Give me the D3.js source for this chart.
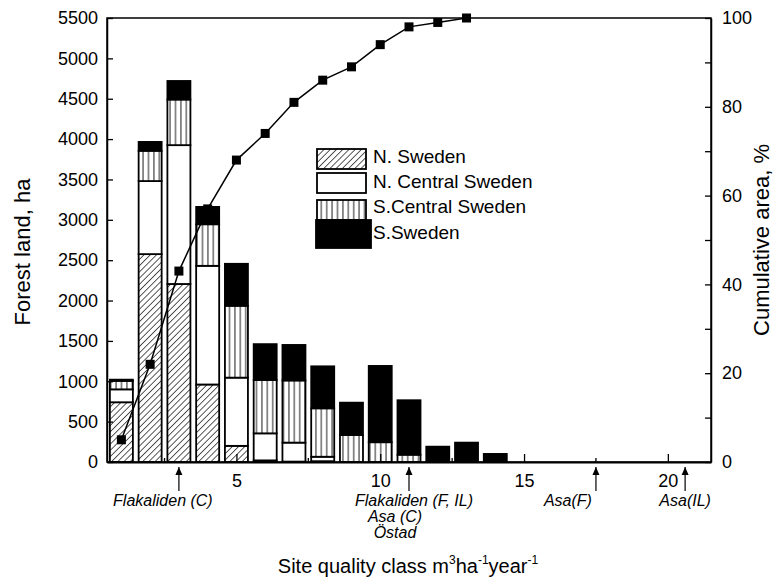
<!DOCTYPE html>
<html>
<head>
<meta charset="utf-8">
<script src="https://cdn.jsdelivr.net/npm/d3@7"></script>
<style>
  body { margin: 0; background: #fff; }
  svg { display: block; font-family: "Liberation Sans", Arial, sans-serif; }
</style>
</head>
<body>
<svg id="chart" width="781" height="581"></svg>
<script>
// ---- data ----
const categories = [1, 2, 3, 4, 5, 6, 7, 8, 9, 10, 11, 12, 13, 14];
const nSweden    = [740, 2575, 2205, 960, 200, 20, 5, 10, 0, 0, 0, 0, 0, 0];
const nCentral   = [160, 905, 1720, 1470, 845, 335, 235, 55, 0, 0, 0, 0, 0, 0];
const sCentral   = [105, 375, 565, 515, 890, 660, 770, 600, 335, 245, 90, 0, 0, 0];
const sSweden    = [15, 110, 230, 215, 520, 445, 440, 520, 400, 945, 675, 190, 240, 100];
const cumCats    = [1, 2, 3, 4, 5, 6, 7, 8, 9, 10, 11, 12, 13];
const cumulative = [5, 22, 43, 57, 68, 74, 81, 86, 89, 94, 98, 99, 100];
const seriesNames = ["N. Sweden", "N. Central Sweden", "S.Central Sweden", "S.Sweden"];
const yTicks = [0, 500, 1000, 1500, 2000, 2500, 3000, 3500, 4000, 4500, 5000, 5500];
const y2Ticks = [0, 10, 20, 30, 40, 50, 60, 70, 80, 90, 100];
const xMajor = [5, 10, 15, 20];
const xMinor = [2.5, 7.5, 12.5, 17.5];
const annotations = [
  { x: 3,    lines: ["Flakaliden (C)"], tx: -21 },
  { x: 11,   lines: ["Flakaliden (F, IL)", "Asa (C)", "Östad"], tx: 0 },
  { x: 17.5, lines: ["Asa(F)"], tx: -33 },
  { x: 20.6, lines: ["Asa(IL)"], tx: -5 }
];

const svg = d3.select("#chart");
const L = 107, R = 711, T = 18, B = 462;

const x = d3.scaleLinear().domain([0.5, 21.5]).range([L, R]);
const y = d3.scaleLinear().domain([0, 5500]).range([B, T]);
const y2 = d3.scaleLinear().domain([0, 100]).range([B, T]);

// patterns
const defs = svg.append("defs");
const hatch = defs.append("pattern").attr("id", "hatch")
  .attr("patternUnits", "userSpaceOnUse").attr("width", 4.4).attr("height", 4.4)
  .attr("patternTransform", "rotate(45)");
hatch.append("rect").attr("width", 4.4).attr("height", 4.4).attr("fill", "#fff");
hatch.append("line").attr("x1", 0).attr("y1", 0).attr("x2", 0).attr("y2", 4.4)
  .attr("stroke", "#000").attr("stroke-width", 1.3);
const vstripe = defs.append("pattern").attr("id", "vstripe")
  .attr("patternUnits", "userSpaceOnUse").attr("width", 5.4).attr("height", 10);
vstripe.append("rect").attr("width", 5.4).attr("height", 10).attr("fill", "#fff");
vstripe.append("line").attr("x1", 2.7).attr("y1", 0).attr("x2", 2.7).attr("y2", 10)
  .attr("stroke", "#333").attr("stroke-width", 1.1);

const fills = ["url(#hatch)", "#fff", "url(#vstripe)", "#000"];

// stacked data
const table = categories.map((c, i) => ({
  cat: c, n: nSweden[i], nc: nCentral[i], sc: sCentral[i], s: sSweden[i]
}));
const stack = d3.stack().keys(["n", "nc", "sc", "s"]);
const stacked = stack(table);

const bw = (x(2) - x(1)) * 0.8;

const layers = svg.append("g").selectAll("g").data(stacked).join("g")
  .attr("fill", (d, i) => fills[i]);
layers.selectAll("rect").data(d => d.filter(v => v[1] - v[0] > 0)).join("rect")
  .attr("x", d => x(d.data.cat) - bw / 2)
  .attr("width", bw)
  .attr("y", d => y(d[1]))
  .attr("height", d => y(d[0]) - y(d[1]))
  .attr("stroke", "#000").attr("stroke-width", 1.8);

// frame
svg.append("rect").attr("x", L).attr("y", T).attr("width", R - L).attr("height", B - T)
  .attr("fill", "none").attr("stroke", "#000").attr("stroke-width", 1.5);

const tickFont = 18;
// left axis
const gl = svg.append("g").attr("transform", `translate(${L},0)`)
  .call(d3.axisLeft(y).tickValues(yTicks).tickSizeInner(-6).tickSizeOuter(0).tickPadding(9)
    .tickFormat(d3.format("d")));
gl.select(".domain").attr("stroke-width", 1.5);
gl.selectAll("line").attr("stroke-width", 1.3);
gl.selectAll("text").attr("font-size", tickFont).attr("font-family", "Liberation Sans, Arial, sans-serif");

// right axis
const gr = svg.append("g").attr("transform", `translate(${R},0)`)
  .call(d3.axisRight(y2).tickValues(y2Ticks).tickSizeInner(-6).tickSizeOuter(0).tickPadding(11)
    .tickFormat(d => d % 20 === 0 ? d : ""));
gr.select(".domain").attr("stroke-width", 1.5);
gr.selectAll("line").attr("stroke-width", 1.3);
gr.selectAll("text").attr("font-size", tickFont).attr("font-family", "Liberation Sans, Arial, sans-serif");

// bottom axis
const gb = svg.append("g").attr("transform", `translate(0,${B})`)
  .call(d3.axisBottom(x).tickValues(xMajor).tickSizeInner(-8).tickSizeOuter(0).tickPadding(12)
    .tickFormat(d3.format("d")));
gb.select(".domain").attr("stroke-width", 1.8);
gb.selectAll("line").attr("stroke-width", 1.3);
gb.selectAll("text").attr("font-size", tickFont).attr("font-family", "Liberation Sans, Arial, sans-serif");
svg.append("g").selectAll("line").data(xMinor).join("line")
  .attr("x1", d => x(d)).attr("x2", d => x(d)).attr("y1", B).attr("y2", B - 4)
  .attr("stroke", "#000").attr("stroke-width", 1.3);

// cumulative line
const lineGen = d3.line().x((d, i) => x(cumCats[i])).y(d => y2(d));
svg.append("path").datum(cumulative).attr("d", lineGen)
  .attr("fill", "none").attr("stroke", "#000").attr("stroke-width", 1.5);
svg.append("g").selectAll("rect").data(cumulative).join("rect")
  .attr("x", (d, i) => x(cumCats[i]) - 4.5).attr("y", d => y2(d) - 4.5)
  .attr("width", 9).attr("height", 9).attr("fill", "#000");

// legend
const leg = svg.append("g");
const legBoxes = [
  { x: 317, y: 149, w: 49, h: 20 },
  { x: 317, y: 173, w: 49, h: 20 },
  { x: 317, y: 200, w: 49, h: 20 },
  { x: 316, y: 220, w: 55, h: 28 }
];
const legTextY = [163, 188, 213, 239];
seriesNames.forEach((name, i) => {
  const b = legBoxes[i];
  leg.append("rect").attr("x", b.x).attr("y", b.y).attr("width", b.w).attr("height", b.h)
    .attr("fill", fills[i]).attr("stroke", "#000").attr("stroke-width", 1.8);
  leg.append("text").attr("x", 373).attr("y", legTextY[i]).attr("font-size", 19)
    .text(name);
});

// annotations (arrows and site labels)
defs.append("marker").attr("id", "arrow").attr("viewBox", "0 0 8 10")
  .attr("refX", 8).attr("refY", 5).attr("markerWidth", 8).attr("markerHeight", 10)
  .attr("markerUnits", "userSpaceOnUse").attr("orient", "auto")
  .append("path").attr("d", "M0,1.5 L8,5 L0,8.5 Z").attr("fill", "#000");
const ga = svg.append("g");
annotations.forEach(a => {
  const ax = x(a.x);
  ga.append("line").attr("x1", ax).attr("x2", ax).attr("y1", 491).attr("y2", 467)
    .attr("stroke", "#000").attr("stroke-width", 1.2).attr("marker-end", "url(#arrow)");
  a.lines.forEach((t, j) => {
    ga.append("text").attr("x", ax + a.tx + (j === 0 ? 5 : -14)).attr("y", 506 + j * 16)
      .attr("text-anchor", "middle").attr("font-size", 16).attr("font-style", "italic")
      .text(t);
  });
});

// axis titles
svg.append("text").attr("transform", "translate(30,252) rotate(-90)")
  .attr("text-anchor", "middle").attr("font-size", 22).text("Forest land, ha");
svg.append("text").attr("transform", "translate(769,240) rotate(-90)")
  .attr("text-anchor", "middle").attr("font-size", 22).text("Cumulative area, %");
const xt = svg.append("text").attr("x", 408).attr("y", 573).attr("text-anchor", "middle")
  .attr("font-size", 20);
xt.append("tspan").text("Site quality class m");
xt.append("tspan").attr("font-size", 12).attr("dy", -9).text("3");
xt.append("tspan").attr("dy", 9).text("ha");
xt.append("tspan").attr("font-size", 12).attr("dy", -9).text("-1");
xt.append("tspan").attr("dy", 9).text("year");
xt.append("tspan").attr("font-size", 12).attr("dy", -9).text("-1");
</script>
</body>
</html>
